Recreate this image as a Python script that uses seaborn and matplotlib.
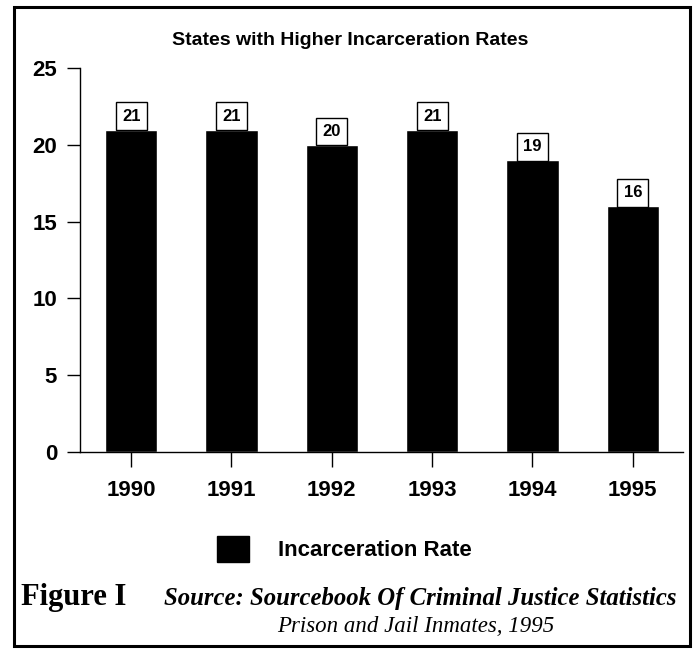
import pandas as pd
import matplotlib.pyplot as plt
import seaborn as sns
from matplotlib.patches import Rectangle, Patch

# data
years = ['1990', '1991', '1992', '1993', '1994', '1995']
rates = [21, 21, 20, 21, 19, 16]
y_ticks = [0, 5, 10, 15, 20, 25]

df = pd.DataFrame({'year': years, 'rate': rates})

sns.set_theme(style="white")
plt.rcParams['font.family'] = ['Liberation Sans', 'DejaVu Sans']
plt.rcParams['text.color'] = 'black'
plt.rcParams['xtick.color'] = 'black'
plt.rcParams['ytick.color'] = 'black'

serif = ['Liberation Serif', 'DejaVu Serif']

fig = plt.figure(figsize=(6.97, 6.56), dpi=100)
ax = fig.add_axes([0.1148, 0.311, 0.865, 0.585])

sns.barplot(data=df, x='year', y='rate', color='black', width=0.52,
            saturation=1, ax=ax)

ax.set_xlim(-0.51, 5.5)
ax.set_ylim(0, 25)
ax.set_yticks(y_ticks)
ax.set_xlabel('')
ax.set_ylabel('')

for s in ['top', 'right']:
    ax.spines[s].set_visible(False)
for s in ['left', 'bottom']:
    ax.spines[s].set_color('black')
    ax.spines[s].set_linewidth(1.0)

ax.tick_params(axis='y', length=9.5, width=1, left=True, labelsize=16, pad=7)
ax.tick_params(axis='x', length=11, width=1, bottom=True, labelsize=16, pad=9)
for lbl in ax.get_xticklabels() + ax.get_yticklabels():
    lbl.set_fontweight('bold')

# boxed value labels sitting on the bars
for i, v in enumerate(rates):
    ax.text(i, v + 0.88, f'{v}', ha='center', va='center', fontsize=12,
            fontweight='bold',
            bbox=dict(boxstyle='square,pad=0.38', fc='white', ec='black', lw=1))

fig.text(0.502, 0.938, 'States with Higher Incarceration Rates', ha='center',
         va='center', fontsize=14, fontweight='bold')

# legend
leg = fig.legend(handles=[Patch(facecolor='black', edgecolor='black')],
                 labels=['Incarceration Rate'], loc='center left',
                 bbox_to_anchor=(217 / 697, 0.163), frameon=False, fontsize=16,
                 handlelength=1.45, handleheight=1.45, handletextpad=1.3,
                 borderpad=0, borderaxespad=0)
for t in leg.get_texts():
    t.set_fontweight('bold')

fig.text(0.03, 0.0777, 'Figure I', ha='left', va='baseline', fontsize=22,
         fontweight='bold', family=serif)
fig.text(0.971, 0.0777, 'Source: Sourcebook Of Criminal Justice Statistics',
         ha='right', va='baseline', fontsize=17.8, fontweight='bold',
         style='italic', family=serif)
fig.text(0.796, 0.0366, 'Prison and Jail Inmates, 1995', ha='right',
         va='baseline', fontsize=16.5, style='italic', family=serif)

# outer frame
fig.patches.append(Rectangle((0.0194, 0.0152), 0.9706, 0.974,
                             transform=fig.transFigure, fill=False,
                             ec='black', lw=2.2))

plt.savefig('out.png', dpi=100)
